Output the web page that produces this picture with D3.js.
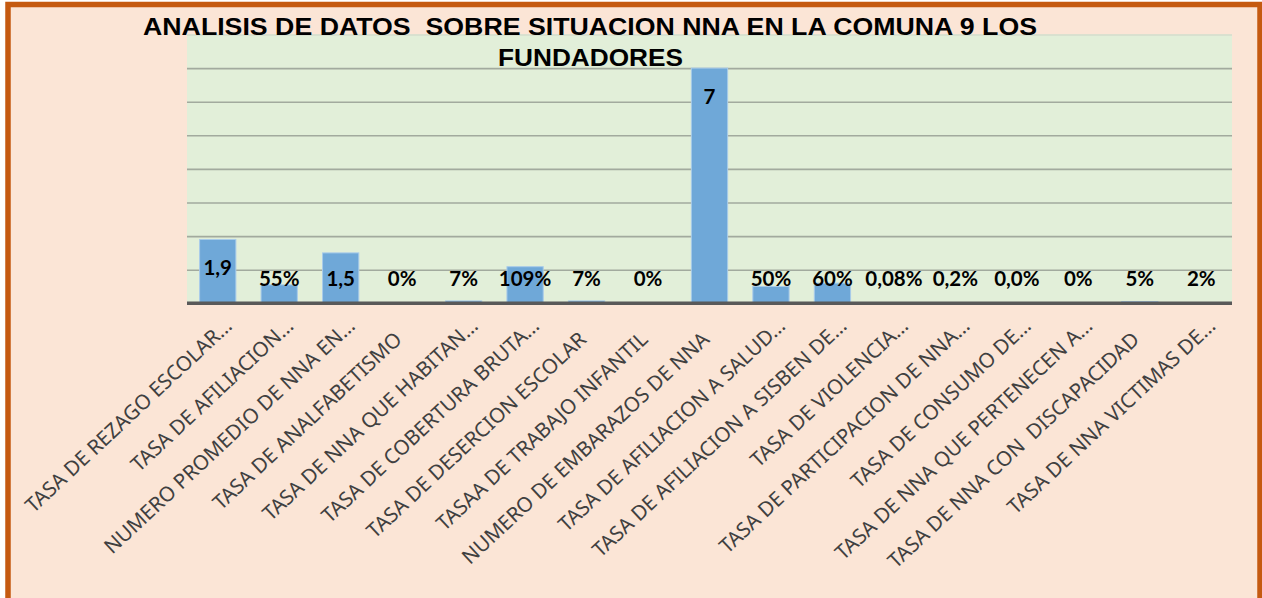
<!DOCTYPE html>
<html>
<head>
<meta charset="utf-8">
<script src="https://cdn.jsdelivr.net/npm/d3@7"></script>
<style>
  body { margin: 0; background: #ffffff; }
  svg { display: block; }
  .pre { white-space: pre; }
</style>
</head>
<body>
<svg id="chart" width="1262" height="598"></svg>
<script>
// categories as shown on the axis (Excel truncates the long ones)
var categories = [
  "TASA DE REZAGO ESCOLAR…",
  "TASA DE AFILIACION…",
  "NUMERO PROMEDIO DE NNA EN…",
  "TASA DE ANALFABETISMO",
  "TASA DE NNA QUE HABITAN…",
  "TASA DE COBERTURA BRUTA…",
  "TASA DE DESERCION ESCOLAR",
  "TASAA DE TRABAJO INFANTIL",
  "NUMERO DE EMBARAZOS DE NNA",
  "TASA DE AFILIACION A SALUD…",
  "TASA DE AFILIACION A SISBEN DE…",
  "TASA DE VIOLENCIA…",
  "TASA DE PARTICIPACION DE NNA…",
  "TASA DE CONSUMO DE…",
  "TASA DE NNA QUE PERTENECEN A…",
  "TASA DE NNA CON  DISCAPACIDAD",
  "TASA DE NNA VICTIMAS DE…"
];

var values = [1.9, 0.55, 1.5, 0, 0.07, 1.09, 0.07, 0, 7, 0.5, 0.6, 0.0008, 0.002, 0, 0, 0.05, 0.02];

var valueLabels = ["1,9", "55%", "1,5", "0%", "7%", "109%", "7%", "0%", "7", "50%", "60%", "0,08%", "0,2%", "0,0%", "0%", "5%", "2%"];

var titleLines = ["ANALISIS DE DATOS  SOBRE SITUACION NNA EN LA COMUNA 9 LOS", "FUNDADORES"];

var yMax = 8;

var svg = d3.select("#chart");

// page frame
svg.append("rect")
  .attr("x", 8).attr("y", 4.5)
  .attr("width", 1252).attr("height", 700)
  .attr("fill", "#fbe5d6")
  .attr("stroke", "#c55a11")
  .attr("stroke-width", 5.5);

var plot = { left: 187, right: 1232, top: 34.5, bottom: 303.3 };

var x = d3.scaleBand()
  .domain(categories)
  .range([plot.left, plot.right])
  .paddingInner(0.41)
  .paddingOuter(0.205);

var y = d3.scaleLinear()
  .domain([0, yMax])
  .range([plot.bottom, plot.top]);

svg.append("rect")
  .attr("x", plot.left).attr("y", plot.top)
  .attr("width", plot.right - plot.left).attr("height", plot.bottom - plot.top)
  .attr("fill", "#e2efd9");

// gridlines
var grid = svg.append("g")
  .attr("transform", "translate(" + plot.left + ",0)")
  .call(d3.axisLeft(y).ticks(yMax).tickSize(-(plot.right - plot.left)).tickFormat(""));
grid.select(".domain").remove();
grid.selectAll(".tick line")
  .attr("stroke", function(d) { return d === yMax ? "#d4dccd" : "#a2aa9e"; })
  .attr("stroke-width", 1.6);
grid.selectAll(".tick").filter(function(d) { return d === 0; }).remove();

// bars
svg.append("g")
  .selectAll("rect")
  .data(values)
  .enter()
  .append("rect")
  .attr("x", function(d, i) { return x(categories[i]); })
  .attr("y", function(d) { return y(d); })
  .attr("width", x.bandwidth())
  .attr("height", function(d) { return plot.bottom - y(d); })
  .attr("fill", "#6fa8d8")
  .attr("stroke", "#a8cbea")
  .attr("stroke-width", 1);

// x axis line
svg.append("line")
  .attr("x1", plot.left).attr("x2", plot.right)
  .attr("y1", plot.bottom).attr("y2", plot.bottom)
  .attr("stroke", "#595959")
  .attr("stroke-width", 3.5);

// data labels, inside end, kept above the axis for short bars
svg.append("g")
  .selectAll("text")
  .data(values)
  .enter()
  .append("text")
  .attr("x", function(d, i) { return x(categories[i]) + x.bandwidth() / 2; })
  .attr("y", function(d) { return Math.min(y(d) + 28.4, 278.5); })
  .attr("dy", "0.36em")
  .attr("text-anchor", "middle")
  .attr("font-family", "Lato, 'Open Sans', sans-serif")
  .attr("font-weight", "bold")
  .attr("font-size", 20.5)
  .attr("fill", "#000")
  .text(function(d, i) { return valueLabels[i]; });

// rotated category labels
svg.append("g")
  .selectAll("text")
  .data(categories)
  .enter()
  .append("text")
  .attr("class", "pre")
  .attr("transform", function(d) {
    return "translate(" + (x(d) + x.bandwidth() / 2 + 1) + ",341) rotate(-43)";
  })
  .attr("x", function(d) { return d.slice(-1) === "…" ? 20 : 0; })
  .attr("text-anchor", "end")
  .attr("font-family", "'Noto Sans', 'Open Sans', sans-serif")
  .attr("font-size", 20.5)
  .attr("fill", "#404040")
  .text(function(d) { return d; });

// title
var titleX = [143, 498];
var titleY = [35, 66];
var titleW = [894, 185];
svg.append("g")
  .selectAll("text")
  .data(titleLines)
  .enter()
  .append("text")
  .attr("class", "pre")
  .attr("x", function(d, i) { return titleX[i]; })
  .attr("y", function(d, i) { return titleY[i]; })
  .attr("textLength", function(d, i) { return titleW[i]; })
  .attr("lengthAdjust", "spacingAndGlyphs")
  .attr("font-family", "'Liberation Sans', Arial, sans-serif")
  .attr("font-weight", "bold")
  .attr("font-size", 23)
  .attr("fill", "#000")
  .text(function(d) { return d; });
</script>
</body>
</html>
